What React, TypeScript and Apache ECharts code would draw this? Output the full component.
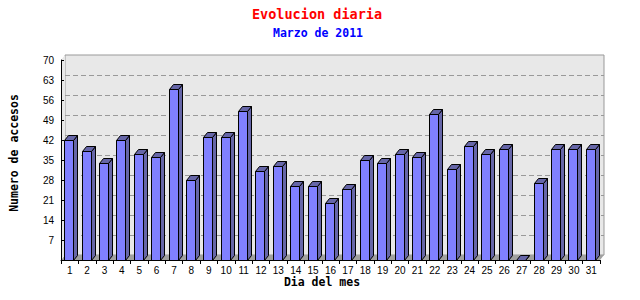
import React, { useEffect, useRef } from "react";
import * as echarts from "echarts";

const days = ["1","2","3","4","5","6","7","8","9","10","11","12","13","14","15","16","17","18","19","20","21","22","23","24","25","26","27","28","29","30","31"];
const visits = [42,38,34,42,37,36,60,28,43,43,52,31,33,26,26,20,25,35,34,37,36,51,32,40,37,39,0,27,39,39,39];
const yMin = 0;
const yMax = 70;
const yStep = 7;

const titleText = "Evolucion diaria";
const subtitleText = "Marzo de 2011";
const xName = "Dia del mes";
const yName = "Numero de accesos";

// layout (pixels)
const W = 640, H = 300;
const L = 61, R = 600, T = 60, B = 260;
const DX = 4, DY = 5;

export default function App() {
  const ref = useRef<HTMLDivElement>(null);
  useEffect(() => {
    if (!ref.current) return;
    const chart = echarts.init(ref.current, null, { renderer: "svg" });
    const mono = "DejaVu Sans Mono";
    const option: any = {
      animation: false,
      backgroundColor: "#ffffff",
      title: [
        { text: titleText, left: 312, top: 2, textAlign: "center",
          textStyle: { color: "#ff0000", fontFamily: mono, fontWeight: "bold", fontSize: 13.5 } },
        { text: subtitleText, left: 313, top: 22, textAlign: "center",
          textStyle: { color: "#0000ff", fontFamily: mono, fontWeight: "bold", fontSize: 11.5 } },
      ],
      grid: [
        { left: L, right: W - R, top: T, bottom: H - B, show: false },
        { left: L + DX, right: W - R - DX, top: T - DY, bottom: H - B + DY, show: true,
          backgroundColor: "#e8e8e8", borderColor: "#999999", borderWidth: 1, z: 0 },
      ],
      xAxis: [
        { type: "category", data: days, gridIndex: 0, z: 3,
          axisLine: { lineStyle: { color: "#000", width: 1 } },
          axisTick: { show: true, inside: false, length: 4, lineStyle: { color: "#000" } },
          axisLabel: { color: "#000", fontFamily: "Liberation Sans", fontSize: 10, margin: 5, interval: 0 },
          splitLine: { show: false } },
        { type: "category", data: days, gridIndex: 1, show: false },
      ],
      yAxis: [
        { type: "value", min: yMin, max: yMax, interval: yStep, gridIndex: 0, z: 3,
          axisLine: { show: true, lineStyle: { color: "#000", width: 1 } },
          axisTick: { show: true, inside: true, length: 3, lineStyle: { color: "#000" } },
          axisLabel: { color: "#000", fontFamily: "Liberation Sans", fontSize: 10, margin: 7,
            formatter: (v: number) => (v === 0 ? "" : String(v)) },
          splitLine: { show: false } },
        { type: "value", min: yMin, max: yMax, interval: yStep, gridIndex: 1,
          axisLine: { show: false }, axisTick: { show: false }, axisLabel: { show: false },
          splitLine: { show: true, showMaxLine: false, showMinLine: false,
            lineStyle: { color: "#999999", type: [5, 3], width: 1 } } },
      ],
      graphic: {
        elements: [
          { type: "polygon", z: 1, silent: true,
            shape: { points: [[L, B], [R, B], [R + DX, B - DY], [L + DX, B - DY]] },
            style: { fill: "#a0a0a0" } },
          { type: "polygon", z: 1, silent: true,
            shape: { points: [[L, T], [L + DX, T - DY], [L + DX, B - DY], [L, B]] },
            style: { fill: "#e8e8e8" } },
          { type: "text", x: 322, y: 282, z: 5,
            style: { text: xName, fill: "#000", font: `bold 11.5px "${mono}"`, textAlign: "center", textVerticalAlign: "middle" } },
          { type: "text", x: 14, y: 153, rotation: Math.PI / 2, z: 5,
            style: { text: yName, fill: "#000", font: `bold 11.5px "${mono}"`, textAlign: "center", textVerticalAlign: "middle" } },
        ],
      },
      series: [
        {
          type: "custom",
          xAxisIndex: 0,
          yAxisIndex: 0,
          z: 2,
          data: visits.map((v, i) => [i, v]),
          renderItem: (params: any, api: any) => {
            const topPt = api.coord([api.value(0), api.value(1)]);
            const basePt = api.coord([api.value(0), 0]);
            const bw = 9;
            const left = Math.round(topPt[0] - 5.5) + 0.5;
            const right = left + bw;
            const top = Math.round(topPt[1]) + 0.5;
            const bottom = Math.round(basePt[1]) + 0.5;
            const stroke = { stroke: "#000000", lineWidth: 1 };
            return {
              type: "group",
              children: [
                { type: "polygon",
                  shape: { points: [[right, top], [right + DX, top - DY], [right + DX, bottom - DY], [right, bottom]] },
                  style: { fill: "#6666a8", ...stroke } },
                { type: "polygon",
                  shape: { points: [[left, top], [left + DX, top - DY], [right + DX, top - DY], [right, top]] },
                  style: { fill: "#6666a8", ...stroke } },
                { type: "rect",
                  shape: { x: left, y: top, width: bw, height: bottom - top },
                  style: { fill: "#8080ff", ...stroke } },
              ],
            };
          },
        },
      ],
    };
    chart.setOption(option);
    return () => chart.dispose();
  }, []);
  return <div ref={ref} style={{ position: "fixed", left: 0, top: 0, width: W, height: H }} />;
}
